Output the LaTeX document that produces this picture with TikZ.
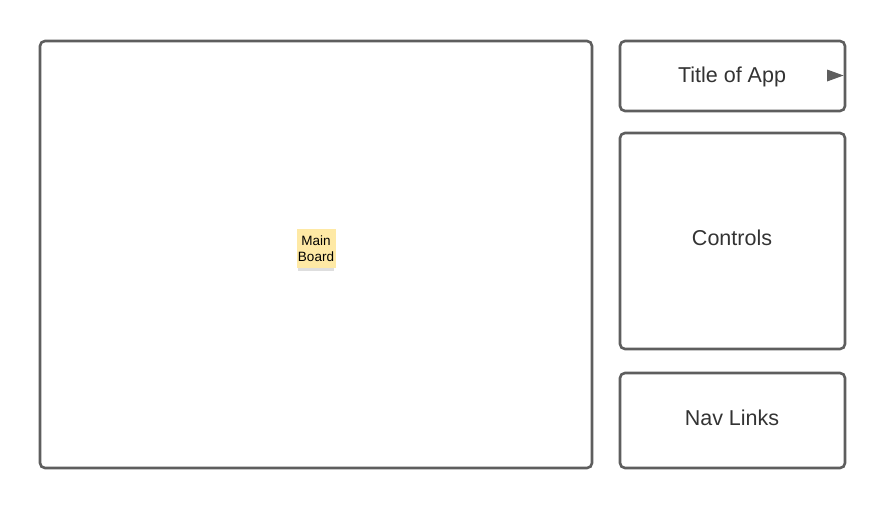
\documentclass[tikz,border=0pt]{standalone}
\usepackage{fontspec}
\setmainfont{Liberation Sans}
\definecolor{frame}{HTML}{5E5E5E}
\definecolor{sticky}{HTML}{FEE9A5}
\definecolor{txt}{HTML}{333333}
\begin{document}
\begin{tikzpicture}[x=1pt,y=-1pt,
  panel/.style={draw=frame,line width=2.6pt,rounded corners=5pt,fill=white},
  lbl/.style={text=txt,font=\fontsize{21.5}{26}\selectfont}]
\useasboundingbox (0,0) rectangle (886,509);
\fill[white] (0,0) rectangle (886,509);
\node[panel,minimum width=552pt,minimum height=427pt,inner sep=0pt] (board) at (316,254.5) {};
\node[panel,minimum width=225pt,minimum height=70pt,inner sep=0pt] (title) at (732.5,76) {};
\node[lbl] (titletext) at (732,76.5) {Title of App};
\node[panel,minimum width=225pt,minimum height=216pt,inner sep=0pt] (controls) at (732.5,241) {};
\node[lbl] (controlstext) at (732,238) {Controls};
\node[panel,minimum width=225pt,minimum height=95pt,inner sep=0pt] (nav) at (732.5,420.5) {};
\node[lbl] (navtext) at (732,417.5) {Nav Links};
% sticky note
\fill[black!25,opacity=0.5] (298,268) rectangle (334,271);
\node[fill=sticky,minimum width=39pt,minimum height=39pt,inner sep=0pt,align=center,
  font=\fontsize{13.5}{16}\selectfont] (note) at (316,248.5) {Main\\Board};
% arrow tip
\coordinate (tipstart) at (827,75.5);
\fill[frame] (827,69.5) -- (843.5,75.5) -- (827,81.5) -- cycle;
\end{tikzpicture}
\end{document}
